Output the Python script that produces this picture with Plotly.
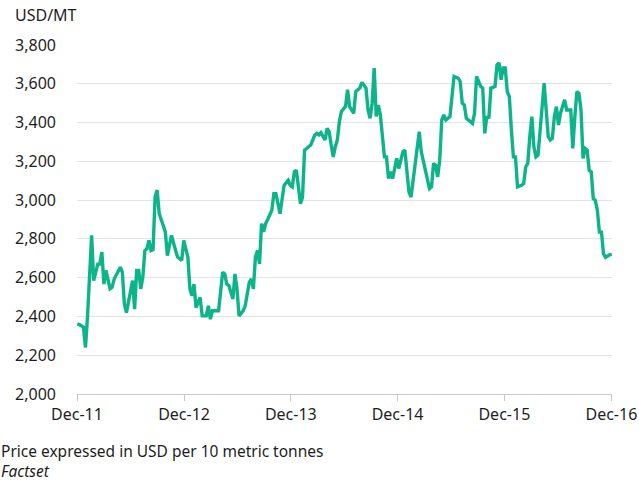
import pandas as pd
import plotly.graph_objects as go

# Week number since 2 Dec 2011 and price (USD per 10 metric tonnes)
start_date = "2011-12-02"
weeks = [0, 1, 3, 4, 5, 6, 7, 8, 10, 11, 12, 13, 14, 16, 17, 18, 20, 21, 22, 23, 24, 26, 27, 28, 29, 30,
         31, 32, 33, 34, 35, 36, 37, 38, 39, 40, 42, 43, 44, 46, 48, 49, 51, 52, 53, 54, 55, 56, 57, 58,
         60, 61, 63, 64, 65, 66, 69, 71, 72, 73, 74, 76, 77, 78, 79, 81, 82, 84, 85, 86, 87, 88, 89, 90,
         91, 92, 93, 94, 95, 96, 97, 99, 100, 101, 103, 104, 105, 106, 107, 108, 109, 110, 111, 112, 114,
         115, 116, 117, 118, 119, 121, 122, 123, 124, 125, 126, 127, 128, 129, 131, 132, 133, 135, 136,
         138, 139, 141, 142, 143, 144, 145, 146, 147, 148, 150, 151, 152, 153, 154, 156, 157, 159, 160,
         161, 162, 163, 165, 166, 167, 168, 170, 171, 172, 173, 174, 175, 176, 177, 178, 179, 180, 182,
         183, 184, 186, 187, 188, 189, 190, 191, 193, 194, 195, 197, 198, 199, 200, 201, 202, 204, 205,
         206, 207, 208, 209, 210, 211, 212, 213, 214, 215, 217, 218, 219, 220, 221, 222, 223, 224, 225,
         226, 228, 229, 230, 231, 232, 233, 234, 235, 236, 238, 239, 241, 242, 243, 244, 245, 246, 247,
         248, 249, 250, 251, 252, 253, 254, 255, 256, 257, 258, 260, 261]
prices = [2362, 2358, 2345, 2240, 2400, 2650, 2818, 2585, 2670, 2670, 2732, 2567, 2637, 2542, 2550, 2593,
          2637, 2654, 2628, 2464, 2420, 2533, 2585, 2438, 2637, 2637, 2542, 2602, 2740, 2749, 2792, 2740,
          2745, 3017, 3052, 2931, 2870, 2836, 2714, 2818, 2740, 2706, 2689, 2792, 2749, 2706, 2542, 2507,
          2567, 2446, 2498, 2403, 2403, 2455, 2386, 2429, 2429, 2628, 2619, 2567, 2559, 2490, 2619, 2542,
          2403, 2429, 2455, 2576, 2593, 2542, 2706, 2740, 2671, 2879, 2836, 2879, 2900, 2921, 2947, 3033,
          3033, 2930, 3016, 3076, 3102, 3076, 3068, 3146, 3154, 3050, 2981, 3016, 3258, 3266, 3284, 3310,
          3336, 3344, 3336, 3348, 3310, 3370, 3353, 3284, 3223, 3275, 3310, 3405, 3457, 3482, 3569, 3482,
          3448, 3560, 3578, 3607, 3578, 3465, 3422, 3500, 3681, 3431, 3490, 3440, 3223, 3223, 3111, 3146,
          3111, 3215, 3163, 3249, 3258, 3146, 3042, 3016, 3180, 3258, 3353, 3249, 3146, 3094, 3059, 3068,
          3189, 3180, 3120, 3206, 3413, 3439, 3413, 3431, 3526, 3638, 3629, 3612, 3500, 3491, 3422, 3413,
          3396, 3448, 3638, 3586, 3578, 3344, 3431, 3422, 3578, 3586, 3698, 3707, 3621, 3681, 3681, 3560,
          3534, 3362, 3223, 3223, 3068, 3076, 3085, 3171, 3189, 3327, 3431, 3275, 3223, 3232, 3362, 3603,
          3465, 3327, 3310, 3318, 3431, 3482, 3387, 3448, 3517, 3465, 3465, 3267, 3431, 3560, 3551, 3465,
          3215, 3267, 3258, 3154, 3146, 3008, 2999, 2947, 2835, 2835, 2722, 2705, 2718, 2722]

tick_dates = ["2011-12-01", "2012-12-01", "2013-12-01", "2014-12-01", "2015-12-01", "2016-12-01"]
tick_labels = ["Dec-11", "Dec-12", "Dec-13", "Dec-14", "Dec-15", "Dec-16"]
y_ticks = [2000, 2200, 2400, 2600, 2800, 3000, 3200, 3400, 3600, 3800]
y_labels = ["2,000", "2,200", "2,400", "2,600", "2,800", "3,000", "3,200", "3,400", "3,600", "3,800"]

dates = pd.Timestamp(start_date) + pd.to_timedelta([w * 7 for w in weeks], unit="D")

FONT = "Noto Sans"
TXT = "#1e1e1e"
SIZE = 16
NOTE = 15.5
PW, PH = 535, 349
fig = go.Figure()
fig.add_trace(go.Scatter(x=dates, y=prices, mode="lines",
                         line=dict(color="#0DB48A", width=3.4), hoverinfo="skip"))

fig.update_layout(
    width=639, height=483,
    margin=dict(l=77, r=27, t=45, b=89, autoexpand=False),
    paper_bgcolor="white", plot_bgcolor="white",
    showlegend=False,
    font=dict(family=FONT, size=SIZE, color=TXT),
    xaxis=dict(range=["2011-12-01", "2016-12-03"], tickvals=tick_dates, ticktext=tick_labels,
               showgrid=False, showline=True, linecolor="#c8c8c8", linewidth=1,
               ticks="outside", ticklen=6, tickcolor="#c8c8c8", tickwidth=1, automargin=False,
               zeroline=False, tickfont=dict(size=SIZE, color=TXT)),
    yaxis=dict(range=[2000, 3800], tickvals=y_ticks, ticktext=y_labels, automargin=False,
               showgrid=True, gridcolor="#e3e3e3", gridwidth=1, zeroline=False,
               showline=False, ticks="", ticklabelstandoff=20,
               tickfont=dict(size=SIZE, color=TXT)),
    annotations=[
        dict(text="USD/MT", xref="paper", yref="paper", x=-64/PW, y=1 + 30/PH,
             xanchor="left", yanchor="middle", showarrow=False, font=dict(size=SIZE, color=TXT)),
        dict(text="Price expressed in USD per 10 metric tonnes<br><i>Factset</i>",
             xref="paper", yref="paper", x=-78/PW, y=-67/PH, xanchor="left", yanchor="middle",
             align="left", showarrow=False, font=dict(size=NOTE, color=TXT)),
    ],
)

fig.write_html("out.html", config={"displayModeBar": False},
               post_script="document.body.style.margin='0';document.body.style.overflow='hidden';")
